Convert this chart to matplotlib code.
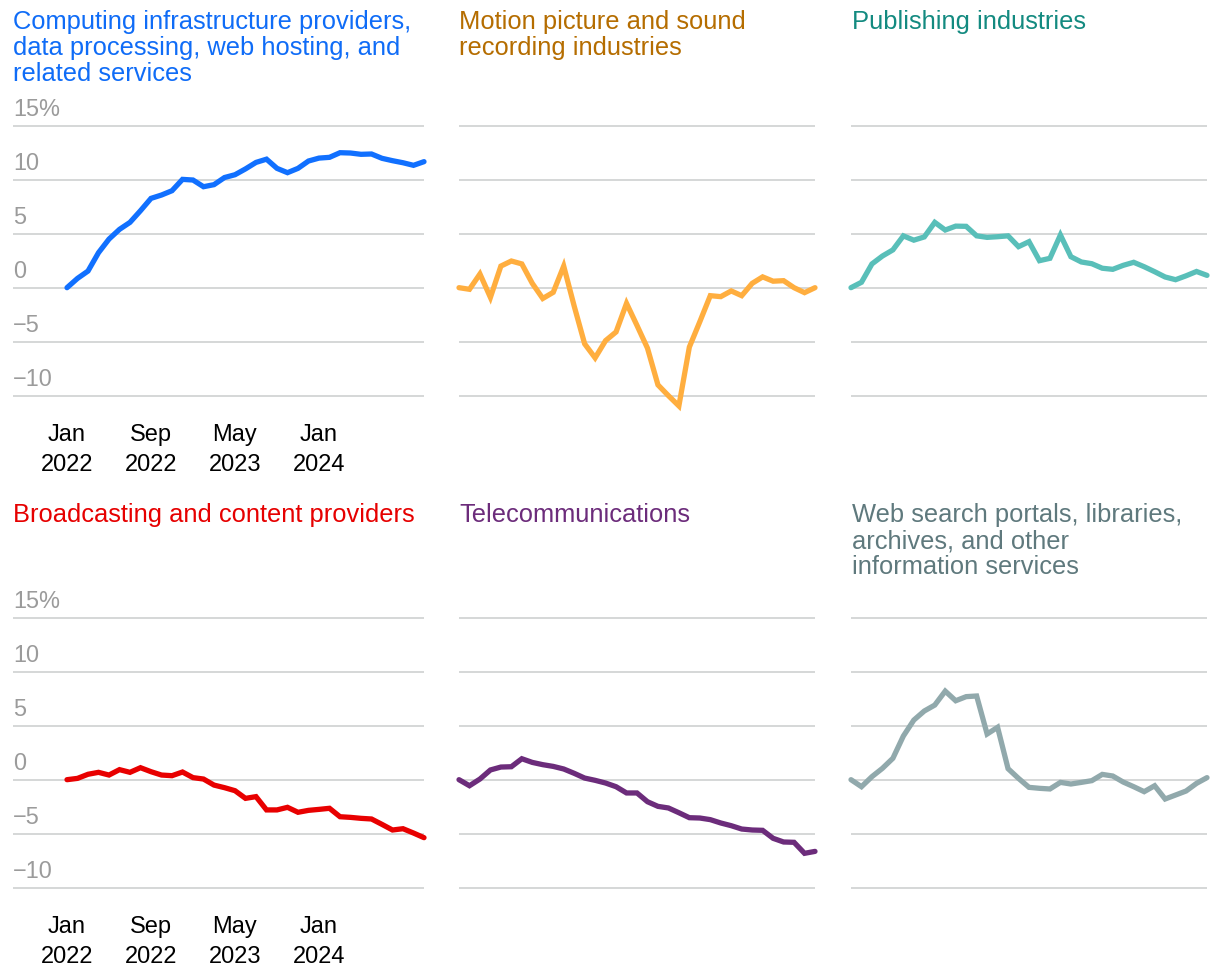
import numpy as np
import matplotlib
matplotlib.use("Agg")
import matplotlib.pyplot as plt
import matplotlib.transforms as mtransforms

plt.rcParams['font.family'] = ['Liberation Sans', 'DejaVu Sans']

# ---------------- data ----------------
months = ["2022-%02d" % m for m in range(1, 13)] + ["2023-%02d" % m for m in range(1, 13)] + ["2024-%02d" % m for m in range(1, 12)]

computing = [0, 0.86, 1.54, 3.24, 4.5, 5.4, 6.05, 7.13, 8.27, 8.58, 8.98, 10.03, 9.97, 9.35, 9.54,
             10.2, 10.46, 11.0, 11.6, 11.9, 11.05, 10.65, 11.05, 11.73, 12.0, 12.07, 12.5, 12.47,
             12.35, 12.38, 11.98, 11.76, 11.57, 11.33, 11.67]
motion = [0, -0.15, 1.27, -0.9, 2.0, 2.47, 2.2, 0.4, -1.0, -0.43, 2.0, -1.7, -5.2, -6.5, -4.9,
          -4.1, -1.45, -3.5, -5.6, -9.0, -10.0, -10.95, -5.5, -3.15, -0.74, -0.83, -0.3, -0.74,
          0.4, 1.0, 0.6, 0.65, 0, -0.46, 0]
publishing = [0, 0.5, 2.2, 2.93, 3.5, 4.8, 4.4, 4.7, 6.05, 5.34, 5.7, 5.68, 4.8, 4.66, 4.72,
              4.8, 3.8, 4.26, 2.5, 2.72, 4.88, 2.87, 2.38, 2.22, 1.8, 1.7, 2.07, 2.35, 1.94,
              1.48, 0.99, 0.74, 1.1, 1.5, 1.14]
broadcasting = [0, 0.12, 0.5, 0.68, 0.43, 0.93, 0.68, 1.11, 0.74, 0.43, 0.37, 0.71, 0.19, 0.06,
                -0.5, -0.74, -1.02, -1.73, -1.57, -2.8, -2.8, -2.56, -3.02, -2.84, -2.75, -2.65,
                -3.43, -3.49, -3.58, -3.64, -4.14, -4.66, -4.54, -4.94, -5.37]
telecom = [0, -0.56, 0.06, 0.9, 1.17, 1.2, 1.94, 1.6, 1.39, 1.23, 0.99, 0.59, 0.15, -0.06,
           -0.31, -0.65, -1.23, -1.23, -2.04, -2.47, -2.62, -3.06, -3.52, -3.55, -3.7, -4.01,
           -4.26, -4.57, -4.66, -4.69, -5.43, -5.77, -5.8, -6.82, -6.64]
websearch = [0, -0.65, 0.28, 1.05, 1.98, 4.04, 5.52, 6.36, 6.91, 8.2, 7.31, 7.69, 7.75, 4.23,
             4.85, 1.02, 0.12, -0.71, -0.8, -0.86, -0.25, -0.4, -0.25, -0.09, 0.49, 0.34, -0.22,
             -0.65, -1.11, -0.56, -1.79, -1.42, -1.05, -0.34, 0.19]

titles = ["Computing infrastructure providers,\ndata processing, web hosting, and\nrelated services",
          "Motion picture and sound\nrecording industries",
          "Publishing industries",
          "Broadcasting and content providers",
          "Telecommunications",
          "Web search portals, libraries,\narchives, and other\ninformation services"]
series = [computing, motion, publishing, broadcasting, telecom, websearch]
line_colors = ["#1170ff", "#ffae3f", "#59bfb9", "#e80000", "#6c2c7b", "#91a9ac"]
title_colors = ["#0f6cf7", "#b56d00", "#138a80", "#e60000", "#6c2c7b", "#5f797d"]

y_ticks = [15, 10, 5, 0, -5, -10]
y_tick_labels = ["15%", "10", "5", "0", "\u22125", "\u221210"]
x_tick_idx = [0, 8, 16, 24]
x_tick_labels = ["Jan\n2022", "Sep\n2022", "May\n2023", "Jan\n2024"]

# ---------------- layout (pixels) ----------------
W, H = 1220, 974
fig = plt.figure(figsize=(W / 100, H / 100), dpi=100)
fig.patch.set_facecolor("white")

def fx(x):
    return x / W

def fy(y):
    return 1 - y / H

col_data_left = [67, 459, 851]
col_right = [424, 815, 1207]
col_axes_left = [13, 459, 851]
row_axes_top = [100, 592]
row_axes_bot = [415, 907]
row_title_base = [29, 522]
title_x = [13, 459, 852]
n = len(months)
ylim = (-11.79, 17.38)

for k, (vals, title) in enumerate(zip(series, titles)):
    r, c = divmod(k, 3)
    left, right = col_axes_left[c], col_right[c]
    top, bot = row_axes_top[r], row_axes_bot[r]
    ax = fig.add_axes([fx(left), fy(bot), (right - left) / W, (bot - top) / H])
    ppm = (right - col_data_left[c]) / (n - 1)
    x0 = -(col_data_left[c] - left) / ppm
    ax.set_xlim(x0, n - 1)
    ax.set_ylim(*ylim)
    for s in ax.spines.values():
        s.set_visible(False)
    for yv in y_ticks:
        ax.axhline(yv, color="#d2d4d4", lw=1.3, zorder=1)
    x = np.arange(len(vals))
    ax.plot(x, vals, color=line_colors[k], lw=3.8, zorder=3,
            solid_joinstyle="miter", solid_capstyle="round", clip_on=False)
    ax.set_yticks([])
    if c == 0:
        ax.set_xticks(x_tick_idx)
        ax.set_xticklabels(x_tick_labels, fontsize=17, color="black", linespacing=1.45)
        ax.tick_params(axis="x", length=0, pad=6.6)
        trans = mtransforms.blended_transform_factory(ax.transAxes, ax.transData)
        for yv, lab in zip(y_ticks, y_tick_labels):
            ax.text(0, yv + 0.92, lab, transform=trans, fontsize=16.9, color="#9b9b9b",
                    ha="left", va="baseline")
    else:
        ax.set_xticks([])
    for i, line in enumerate(title.split("\n")):
        fig.text(fx(title_x[c]), fy(row_title_base[r] + 26 * i), line, fontsize=18.4,
                 color=title_colors[k], ha="left", va="baseline")

fig.savefig("out.png", dpi=100, facecolor="white")
